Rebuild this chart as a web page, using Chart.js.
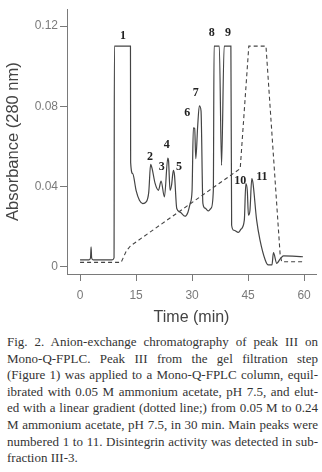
<!DOCTYPE html>
<html>
<head>
<meta charset="utf-8">
<script src="https://cdn.jsdelivr.net/npm/chart.js@4"></script>
<style>
  html, body { margin: 0; padding: 0; background: #fff; }
  body { width: 322px; height: 472px; position: relative; overflow: hidden; }
  #wrap { position: absolute; left: 0; top: 0; width: 322px; height: 330px; }
  #caption { position: absolute; left: 7px; top: 334px; width: 311px; font: 13px/16.6px "Liberation Serif", "Times New Roman", serif; color: #333; }
  #caption div { text-align: justify; text-align-last: justify; }
  #caption div.last { text-align-last: left; }
</style>
</head>
<body>
<div id="wrap"><canvas id="chromChart" width="322" height="330"></canvas></div>
<div id="caption">
  <div>Fig. 2. Anion-exchange chromatography of peak III on</div>
  <div>Mono-Q-FPLC. Peak III from the gel filtration step</div>
  <div>(Figure 1) was applied to a Mono-Q-FPLC column, equil-</div>
  <div>ibrated with 0.05 M ammonium acetate, pH 7.5, and elut-</div>
  <div>ed with a linear gradient (dotted line;) from 0.05 M to 0.24</div>
  <div>M ammonium acetate, pH 7.5, in 30 min. Main peaks were</div>
  <div>numbered 1 to 11. Disintegrin activity was detected in sub-</div>
  <div class="last">fraction III-3.</div>
</div>
<script>
// absorbance trace (min, A280)
const traceTime = [0, 2.4, 2.8, 2.95, 3.1, 3.5, 8.6, 9.1, 9.2, 13.5, 13.55, 14.1, 15.0, 15.9, 16.8, 17.7, 18.4, 18.9, 19.3, 20.1,
    21.0, 21.7, 22.6, 23.5, 23.7, 24.1, 24.5, 25.0, 25.3, 25.9, 26.8, 28.1, 28.9, 29.5, 30.0, 30.35, 30.7, 31.0, 31.5, 31.95,
    32.4, 32.9, 33.5, 34.4, 35.1, 35.7, 35.9, 37.3, 37.9, 38.6, 40.4, 40.6, 41.2, 42.4, 43.1, 44.0, 44.4, 44.8, 45.1, 45.5,
    46.0, 46.3, 47.3, 48.2, 49.6, 50.4, 51.4, 51.8, 52.7, 53.6, 54.5, 59.7];
const traceAbs = [0.0035, 0.0035, 0.0045, 0.010, 0.0045, 0.0035, 0.0035, 0.0045, 0.110, 0.110, 0.052, 0.0465, 0.0382, 0.0332, 0.0316, 0.0324, 0.0373, 0.0511, 0.049, 0.0416,
    0.0382, 0.0428, 0.0349, 0.0542, 0.053, 0.0382, 0.0407, 0.0481, 0.0456, 0.0291, 0.0273, 0.0253, 0.0273, 0.0317, 0.038, 0.0693, 0.069, 0.0539, 0.070, 0.0803,
    0.0778, 0.0317, 0.0293, 0.0279, 0.0293, 0.0382, 0.110, 0.110, 0.0506, 0.110, 0.110, 0.0208, 0.0183, 0.0172, 0.0188, 0.0233, 0.0415, 0.038, 0.0258, 0.028,
    0.044, 0.042, 0.0233, 0.0134, 0.0035, 0.001, 0.001, 0.0071, 0.0018, 0.004, 0.0055, 0.0051];

// salt gradient (dotted line), plotted on the same axis
const gradientTime = [0, 11.0, 12.4, 13.5, 42.9, 45.2, 49.8, 53.6, 54.0, 59.7];
const gradientAbs = [0.0023, 0.0023, 0.0080, 0.0105, 0.049, 0.110, 0.110, 0.006, 0.0026, 0.0026];

// peak numbers and where they sit (min, A280)
const peakNames = ['1', '2', '3', '4', '5', '6', '7', '8', '9', '10', '11'];
const peakTime = [11.5, 18.75, 21.9, 23.2, 26.5, 28.7, 31.0, 35.3, 39.6, 42.9, 48.7];
const peakAbs = [0.115, 0.055, 0.050, 0.0608, 0.050, 0.0765, 0.0869, 0.1165, 0.1165, 0.0431, 0.0451];

const xTicks = [0, 15, 30, 45, 60];
const yTicks = [0, 0.04, 0.08, 0.12];

const axisGrey = '#7a7a7a';

const peakLabelPlugin = {
    id: 'peakLabels',
    afterDatasetsDraw(chart) {
        const { ctx, scales: { x, y } } = chart;
        ctx.save();
        ctx.font = 'bold 12px "Liberation Serif", serif';
        ctx.fillStyle = '#222';
        ctx.textAlign = 'center';
        ctx.textBaseline = 'middle';
        peakNames.forEach((name, i) => {
            ctx.fillText(name, x.getPixelForValue(peakTime[i]), y.getPixelForValue(peakAbs[i]));
        });
        ctx.restore();
    }
};

const zip = (xs, ys) => xs.map((v, i) => ({ x: v, y: ys[i] }));

new Chart(document.getElementById('chromChart'), {
    type: 'line',
    data: {
        datasets: [
            {
                label: 'A280',
                data: zip(traceTime, traceAbs),
                borderColor: '#444',
                borderWidth: 1.2,
                pointRadius: 0,
                cubicInterpolationMode: 'monotone',
                fill: false
            },
            {
                label: 'Gradient',
                data: zip(gradientTime, gradientAbs),
                borderColor: '#444',
                borderWidth: 1.1,
                borderDash: [4, 3],
                pointRadius: 0,
                tension: 0,
                fill: false
            }
        ]
    },
    options: {
        responsive: false,
        devicePixelRatio: 1,
        animation: false,
        layout: { padding: { left: 0, right: 6, top: 8, bottom: 0 } },
        plugins: { legend: { display: false }, tooltip: { enabled: false } },
        scales: {
            x: {
                type: 'linear',
                min: -3.5,
                max: 63.2,
                afterBuildTicks: s => { s.ticks = xTicks.map(v => ({ value: v })); },
                afterFit: s => { s.height = 56; },
                border: { color: axisGrey, width: 1 },
                grid: { drawOnChartArea: false, drawTicks: true, tickLength: 7, color: axisGrey },
                ticks: { color: axisGrey, font: { family: '"Liberation Sans", Arial, sans-serif', size: 12 }, padding: 7, maxRotation: 0 },
                title: { display: true, text: 'Time (min)', color: '#444', font: { family: '"Liberation Sans", Arial, sans-serif', size: 16 }, padding: { top: 0, bottom: 3 } }
            },
            y: {
                type: 'linear',
                min: -0.0035,
                max: 0.1284,
                afterBuildTicks: s => { s.ticks = yTicks.map(v => ({ value: v })); },
                afterFit: s => { s.width = 67; },
                border: { color: axisGrey, width: 1 },
                grid: { drawOnChartArea: false, drawTicks: true, tickLength: 7, color: axisGrey },
                ticks: {
                    color: axisGrey,
                    font: { family: '"Liberation Sans", Arial, sans-serif', size: 12 },
                    padding: 2,
                    callback: v => v === 0 ? '0' : v.toFixed(2)
                },
                title: { display: true, text: 'Absorbance (280 nm)', color: '#444', font: { family: '"Liberation Sans", Arial, sans-serif', size: 16.5 }, padding: { top: 4, bottom: 0 } }
            }
        }
    },
    plugins: [peakLabelPlugin]
});
</script>
</body>
</html>
